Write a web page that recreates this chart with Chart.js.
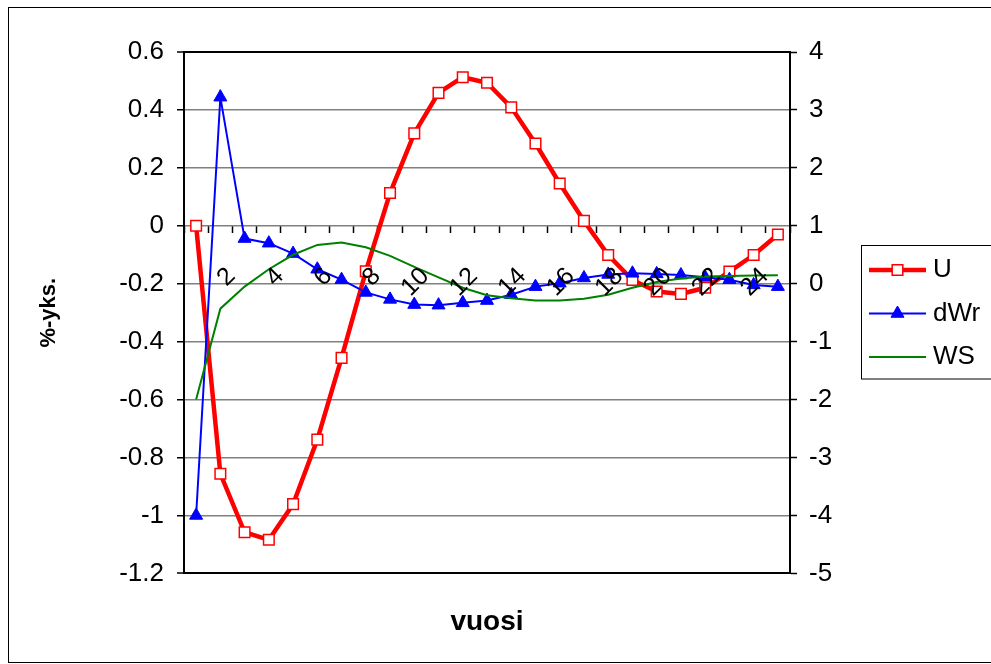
<!DOCTYPE html>
<html><head><meta charset="utf-8">
<script src="https://cdn.jsdelivr.net/npm/chart.js@4.4.0/dist/chart.umd.min.js"></script>
<style>html,body{margin:0;padding:0;background:#fff;}canvas{display:block;}</style>
</head><body>
<canvas id="c" width="991" height="664"></canvas>
<script>
const categories = ['1','2','3','4','5','6','7','8','9','10','11','12','13','14','15','16','17','18','19','20','21','22','23','24','25'];
const shownXLabels = ['2','4','6','8','10','12','14','16','18','20','22','24'];
const U = [0, -0.856, -1.058, -1.084, -0.961, -0.738, -0.456, -0.157, 0.113, 0.319, 0.459, 0.513, 0.494, 0.409, 0.284, 0.146, 0.017, -0.101, -0.187, -0.227, -0.235, -0.214, -0.158, -0.101, -0.030];
const dWr = [-4.0, 3.22, 0.78, 0.70, 0.52, 0.25, 0.07, -0.15, -0.27, -0.36, -0.37, -0.33, -0.29, -0.19, -0.05, 0.01, 0.10, 0.16, 0.18, 0.17, 0.15, 0.11, 0.07, -0.02, -0.05];
const WS = [-2.0, -0.43, -0.05, 0.25, 0.50, 0.67, 0.71, 0.63, 0.48, 0.29, 0.11, -0.07, -0.20, -0.25, -0.29, -0.29, -0.26, -0.19, -0.07, 0.03, 0.09, 0.125, 0.135, 0.14, 0.145];
const leftTicks = [-1.2, -1, -0.8, -0.6, -0.4, -0.2, 0, 0.2, 0.4, 0.6];
const rightTicks = [-5, -4, -3, -2, -1, 0, 1, 2, 3, 4];
const seriesNames = ['U', 'dWr', 'WS'];
const yTitle = '%-yks.';
const xTitle = 'vuosi';
const FONT = '"Liberation Sans", Arial, sans-serif';

const frame = {
  id: 'frame',
  beforeDraw(chart) {
    const ctx = chart.ctx;
    ctx.save();
    ctx.fillStyle = '#fff';
    ctx.fillRect(0, 0, chart.width, chart.height);
    ctx.strokeStyle = '#000';
    ctx.lineWidth = 1;
    ctx.strokeRect(8.5, 7.5, 1000, 655);
    ctx.restore();
  }
};

const legendBox = {
  id: 'legendBox',
  afterDraw(chart) {
    const ctx = chart.ctx;
    const x0 = 861, y0 = 245.5, rows = [270, 313.5, 357];
    ctx.save();
    ctx.strokeStyle = '#000';
    ctx.lineWidth = 1;
    ctx.strokeRect(x0 + 0.5, y0, 200, 133.5);
    chart.data.datasets.forEach((ds, i) => {
      const y = rows[i];
      ctx.strokeStyle = ds.borderColor;
      ctx.lineWidth = ds.borderWidth;
      ctx.beginPath();
      ctx.moveTo(869, y);
      ctx.lineTo(926, y);
      ctx.stroke();
      if (ds.pointRadius > 0) {
        ctx.fillStyle = ds.pointBackgroundColor;
        ctx.strokeStyle = ds.pointBorderColor;
        ctx.lineWidth = ds.pointBorderWidth;
        Chart.helpers.drawPoint(ctx, {pointStyle: ds.pointStyle, radius: ds.pointRadius, borderWidth: ds.pointBorderWidth, rotation: 0}, 897.5, y);
      }
      ctx.fillStyle = '#000';
      ctx.font = '26px ' + FONT;
      ctx.textBaseline = 'middle';
      ctx.textAlign = 'left';
      ctx.fillText(ds.label, 933, y);
    });
    ctx.restore();
  }
};

const edgeTick = c => c.tick && (Math.abs(c.tick.value - 0.6) < 1e-9 || Math.abs(c.tick.value + 1.2) < 1e-9);

new Chart(document.getElementById('c'), {
  type: 'line',
  data: {
    labels: categories,
    datasets: [
      {label: seriesNames[0], data: U, yAxisID: 'y', borderColor: '#FF0000', borderWidth: 4.5, pointStyle: 'rect', pointRadius: 7.5, pointBorderWidth: 1.5, pointBackgroundColor: '#FFFFFF', pointBorderColor: '#FF0000', order: 3, tension: 0},
      {label: seriesNames[1], data: dWr, yAxisID: 'y1', borderColor: '#0000FF', borderWidth: 2, pointStyle: 'triangle', pointRadius: 7.5, pointBorderWidth: 1, pointBackgroundColor: '#0000FF', pointBorderColor: '#0000FF', order: 2, tension: 0},
      {label: seriesNames[2], data: WS, yAxisID: 'y1', borderColor: '#008000', borderWidth: 2, pointRadius: 0, order: 1, tension: 0}
    ]
  },
  options: {
    responsive: false,
    animation: false,
    devicePixelRatio: 1,
    layout: {padding: {top: 52, left: 0, right: 0, bottom: 0}},
    plugins: {
      legend: {display: false},
      tooltip: {enabled: false},
      title: {display: true, text: xTitle, position: 'bottom', fullSize: false, color: '#000', font: {family: FONT, size: 28, weight: 'bold'}, padding: {top: 32, bottom: 25}}
    },
    scales: {
      x: {
        type: 'category',
        position: {y: 0},
        offset: true,
        grid: {display: true, offset: true, drawOnChartArea: false, drawTicks: true, tickLength: 7, tickColor: '#000', tickWidth: 1.5},
        border: {display: false},
        ticks: {
          z: 1,
          autoSkip: false, maxRotation: 45, minRotation: 45, padding: 29, labelOffset: 11, color: '#000',
          font: {family: FONT, size: 25},
          callback: function (v) { const l = this.getLabelForValue(v); return shownXLabels.includes(l) ? l : ''; }
        }
      },
      y: {
        position: 'left', min: -1.2, max: 0.6,
        afterBuildTicks: s => { s.ticks = leftTicks.map(v => ({value: v})); },
        afterFit: s => { s.width = 184; },
        grid: {color: c => edgeTick(c) ? '#000' : '#808080', lineWidth: c => edgeTick(c) ? 2 : 1.5, tickLength: 7, tickColor: '#000', tickWidth: 1.5},
        border: {display: true, color: '#000', width: 2},
        ticks: {color: '#000', font: {family: FONT, size: 26}, padding: 13, callback: v => String(v)},
        title: {display: true, text: yTitle, color: '#000', font: {family: FONT, size: 22, weight: 'bold'}, padding: {top: 36, bottom: 0}}
      },
      y1: {
        position: 'right', min: -5, max: 4,
        afterBuildTicks: s => { s.ticks = rightTicks.map(v => ({value: v})); },
        afterFit: s => { s.width = 201; },
        grid: {drawOnChartArea: false, tickLength: 7, tickColor: '#000', tickWidth: 1.5},
        border: {display: true, color: '#000', width: 2},
        ticks: {color: '#000', font: {family: FONT, size: 26}, padding: 12, callback: v => String(v)}
      }
    }
  },
  plugins: [frame, legendBox]
});
</script>
</body></html>
